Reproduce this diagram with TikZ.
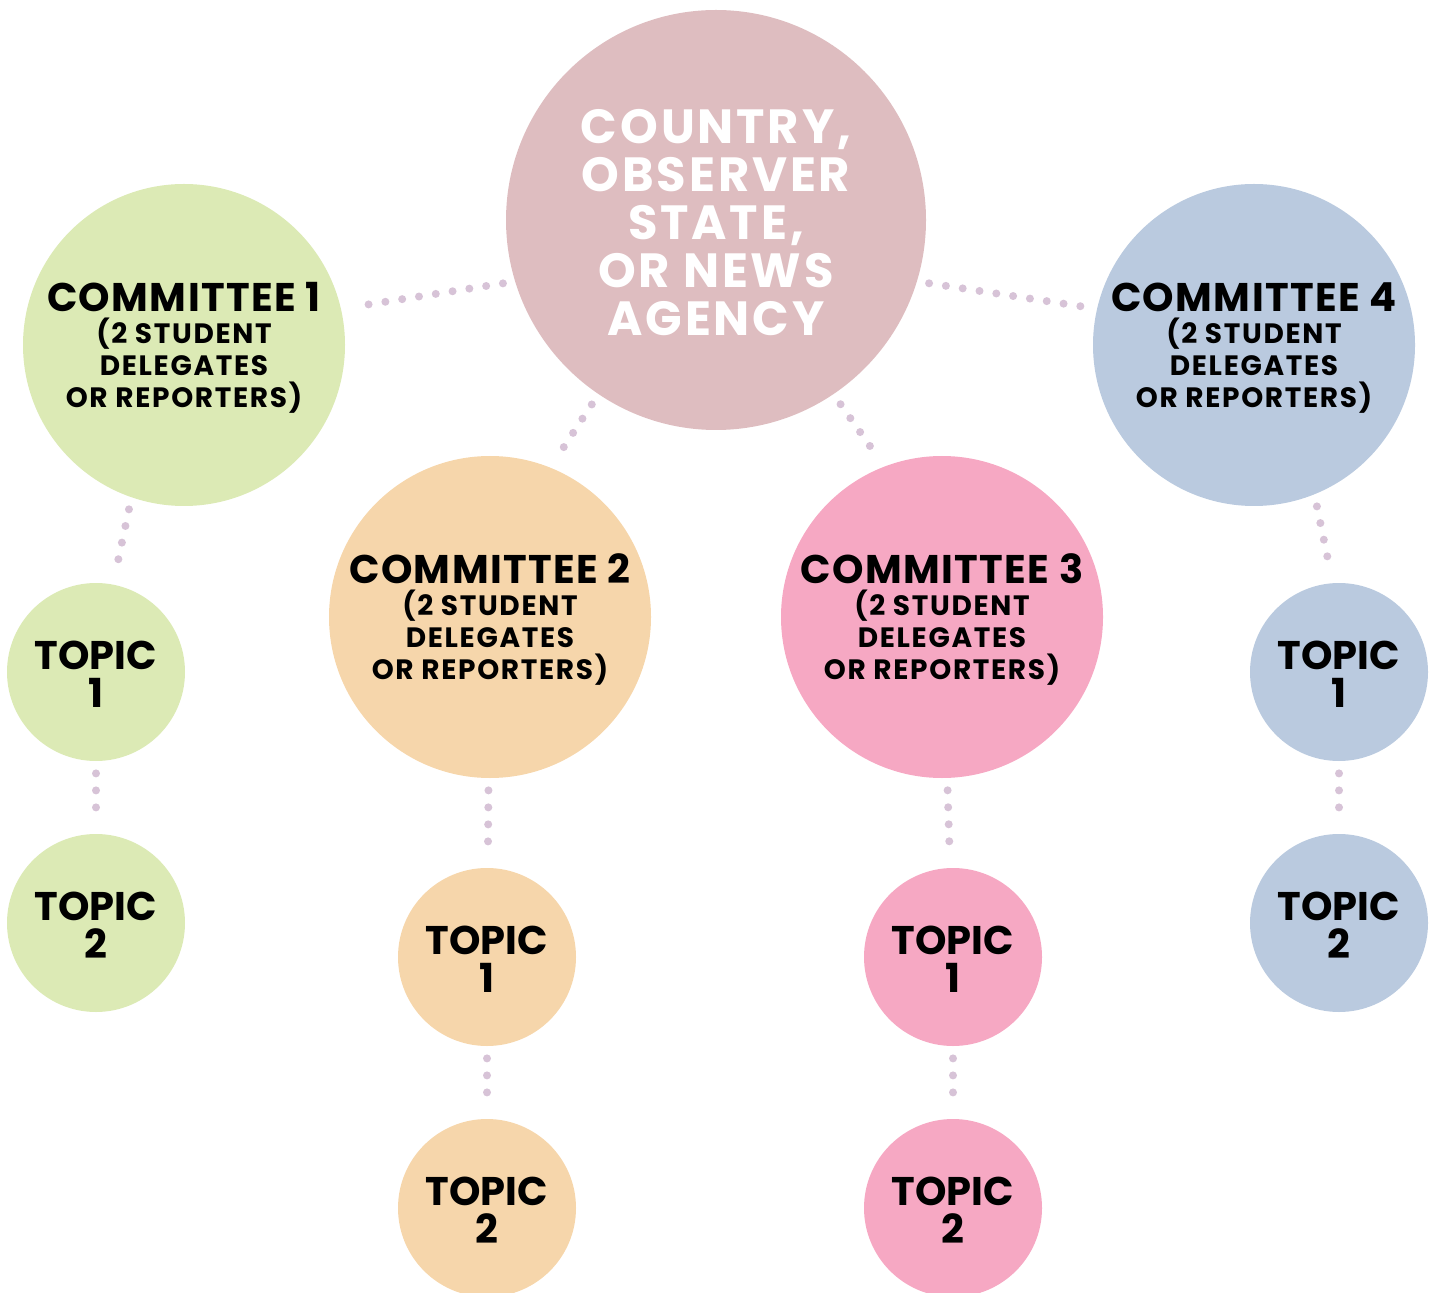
\documentclass[tikz,border=0pt]{standalone}
\usepackage{fontspec}
\setmainfont{Poppins}
\definecolor{mauve}{HTML}{DEBDC0}
\definecolor{leaf}{HTML}{DCEAB5}
\definecolor{peach}{HTML}{F6D6AB}
\definecolor{rose}{HTML}{F6A8C3}
\definecolor{sky}{HTML}{BACADF}
\definecolor{dotc}{HTML}{D7C3D7}
\newcommand{\cmtetext}[1]{{\fontsize{20}{16}\selectfont\addfontfeatures{LetterSpace=3.5}\rule{0pt}{17.5pt}COMMITTEE #1}\\(2 STUDENT\\DELEGATES\\OR REPORTERS)}
\newcommand{\topictext}[1]{\rule{0pt}{16pt}TOPIC\\#1}
\begin{document}
\begin{tikzpicture}[x=0.5pt,y=-0.5pt,
	bubble/.style={circle,inner sep=0pt,align=center,text=black},
	country/.style={bubble,minimum size=210pt,text=white,font=\bfseries\fontsize{24}{24}\selectfont\addfontfeatures{LetterSpace=6}},
	cmte/.style={bubble,minimum size=161pt,font=\bfseries\fontsize{14}{16}\selectfont\addfontfeatures{LetterSpace=6}},
	topic/.style={bubble,minimum size=89pt,font=\bfseries\fontsize{20}{19}\selectfont},
	dotline/.style={draw=dotc,line width=4pt,line cap=round,dash pattern=on 0pt off 8.5pt,shorten <=6pt,shorten >=6pt}]
	\path[use as bounding box,clip] (0,0) rectangle (1438,1293);
	% centre and committees
	\node[country,fill=mauve] (ctr) at (716,220) {\rule{0pt}{20pt}COUNTRY,\\OBSERVER\\STATE,\\OR NEWS\\AGENCY};
	\node[cmte,fill=leaf] (c1) at (184,345) {\cmtetext{1}};
	\node[cmte,fill=peach] (c2) at (490,617) {\cmtetext{2}};
	\node[cmte,fill=rose] (c3) at (942,617) {\cmtetext{3}};
	\node[cmte,fill=sky] (c4) at (1254,345) {\cmtetext{4}};
	% topics
	\node[topic,fill=leaf] (t11) at (96,672) {\topictext{1}};
	\node[topic,fill=leaf] (t12) at (96,923) {\topictext{2}};
	\node[topic,fill=peach] (t21) at (487,957) {\topictext{1}};
	\node[topic,fill=peach] (t22) at (487,1208) {\topictext{2}};
	\node[topic,fill=rose] (t31) at (953,957) {\topictext{1}};
	\node[topic,fill=rose] (t32) at (953,1208) {\topictext{2}};
	\node[topic,fill=sky] (t41) at (1339,672) {\topictext{1}};
	\node[topic,fill=sky] (t42) at (1339,923) {\topictext{2}};
	% dotted links
	\draw[dotline] (ctr.197) -- (c1.13);
	\draw[dotline] (ctr.343) -- (c4.167);
	\draw[dotline] (ctr.236) -- (c2.68);
	\draw[dotline] (ctr.304) -- (c3.111);
	\draw[dotline] (c1.251) -- (t11.79);
	\draw[dotline] (t11) -- (t12);
	\draw[dotline] (c2) -- (t21);
	\draw[dotline] (t21) -- (t22);
	\draw[dotline] (c3) -- (t31);
	\draw[dotline] (t31) -- (t32);
	\draw[dotline] (c4.292) -- (t41.94);
	\draw[dotline] (t41) -- (t42);
\end{tikzpicture}
\end{document}
